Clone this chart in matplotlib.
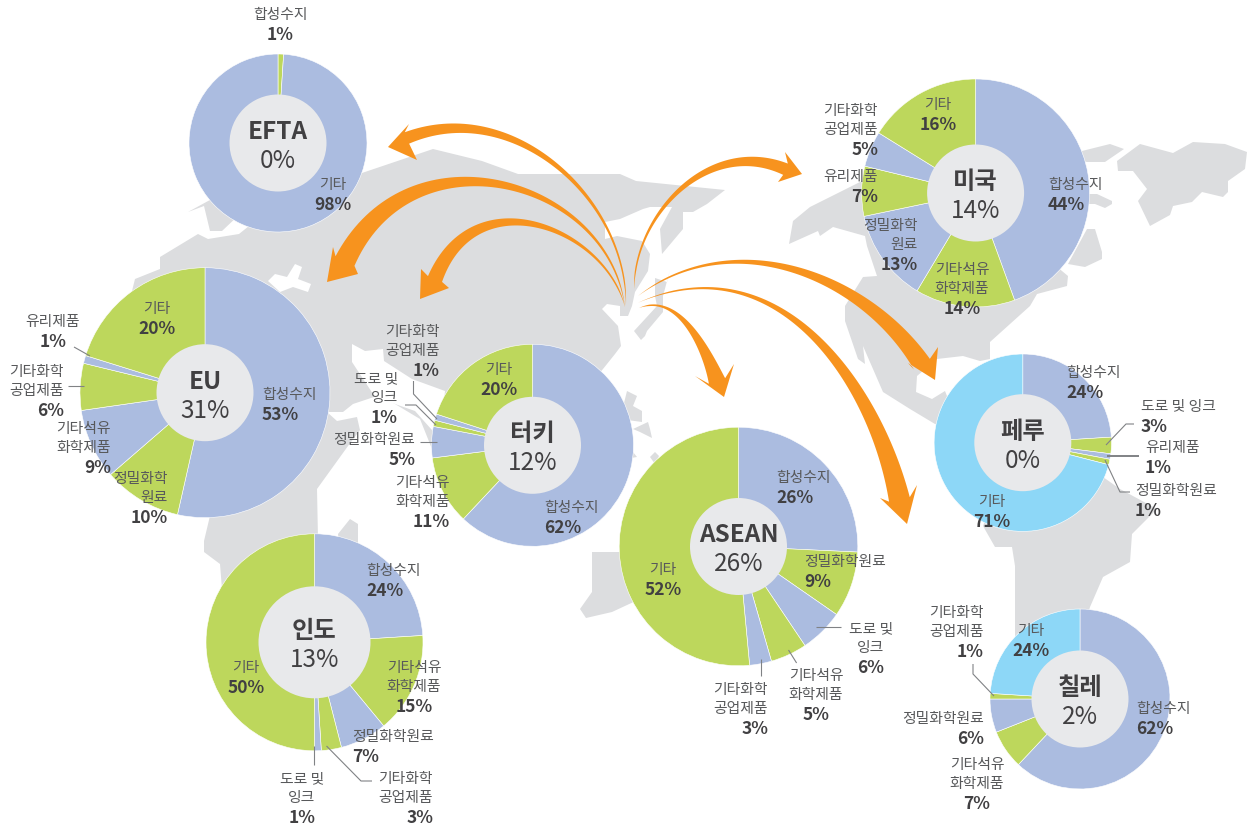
import numpy as np
import matplotlib
matplotlib.use("Agg")
import matplotlib.pyplot as plt
from matplotlib.patches import Circle, Polygon

plt.rcParams['font.family'] = ['Noto Sans CJK KR', 'DejaVu Sans']

BLUE = '#ABBCE0'
GREEN = '#BDD75C'
SKY = '#8DD7F7'
HOLE = '#E8E9EB'
LAND = '#DCDDDF'
ORANGE = '#F7931E'
TEXT = '#58595B'
DARK = '#414042'
LEAD = '#808285'

# values, clockwise from 12 o'clock
efta_names = ['합성수지', '기타']
efta_values = [1, 98]
efta_colors = [GREEN, BLUE]

eu_names = ['합성수지', '정밀화학\n원료', '기타석유\n화학제품', '기타화학\n공업제품', '유리제품', '기타']
eu_values = [53, 10, 9, 6, 1, 20]
eu_colors = [BLUE, GREEN, BLUE, GREEN, BLUE, GREEN]

turkey_names = ['합성수지', '기타석유\n화학제품', '정밀화학원료', '도로 및\n잉크', '기타화학\n공업제품', '기타']
turkey_values = [62, 11, 5, 1, 1, 20]
turkey_colors = [BLUE, GREEN, BLUE, GREEN, BLUE, GREEN]

india_names = ['합성수지', '기타석유\n화학제품', '정밀화학원료', '기타화학\n공업제품', '도로 및\n잉크', '기타']
india_values = [24, 15, 7, 3, 1, 50]
india_colors = [BLUE, GREEN, BLUE, GREEN, BLUE, GREEN]

asean_names = ['합성수지', '정밀화학원료', '도로 및\n잉크', '기타석유\n화학제품', '기타화학\n공업제품', '기타']
asean_values = [26, 9, 6, 5, 3, 52]
asean_colors = [BLUE, GREEN, BLUE, GREEN, BLUE, GREEN]

usa_names = ['합성수지', '기타석유\n화학제품', '정밀화학\n원료', '유리제품', '기타화학\n공업제품', '기타']
usa_values = [44, 14, 13, 7, 5, 16]
usa_colors = [BLUE, GREEN, BLUE, GREEN, BLUE, GREEN]

peru_names = ['합성수지', '도로 및 잉크', '유리제품', '정밀화학원료', '기타']
peru_values = [24, 3, 1, 1, 71]
peru_colors = [BLUE, GREEN, BLUE, GREEN, SKY]

chile_names = ['합성수지', '기타석유\n화학제품', '정밀화학원료', '기타화학\n공업제품', '기타']
chile_values = [62, 7, 6, 1, 24]
chile_colors = [BLUE, GREEN, BLUE, GREEN, SKY]

fig = plt.figure(figsize=(12.52, 8.28), dpi=100)
ax = fig.add_axes([0, 0, 1, 1])


def land(pts, color=LAND):
    ax.add_patch(Polygon(pts, closed=True, fc=color, ec='none', zorder=1))


# --- map, pixel coordinates, y down
land([(160, 258), (198, 235), (208, 240), (239, 235), (249, 227), (300, 195), (359, 175), (433, 150), (482, 162),
      (518, 175), (620, 175), (636, 182), (725, 191), (707, 205), (693, 213), (683, 213), (683, 230), (662, 255),
      (660, 230), (672, 208), (650, 208), (643, 210), (620, 220), (605, 223), (605, 240), (617, 237), (642, 242),
      (650, 255), (648, 272), (635, 293), (632, 307), (628, 317), (620, 317), (620, 307), (607, 305), (602, 310),
      (618, 327), (621, 347), (615, 355), (603, 370), (560, 420), (450, 470), (380, 440), (363, 427), (348, 447),
      (317, 490), (318, 540), (320, 590), (222, 590), (220, 565), (204, 553), (204, 542), (214, 500), (130, 460),
      (130, 300), (135, 280), (160, 270)])
land([(188, 213), (204, 207), (210, 232), (222, 232), (240, 215), (230, 190)])
land([(338, 535), (350, 520), (358, 525), (358, 550), (340, 550)])
land([(655, 279), (667, 283), (670, 271), (663, 297), (663, 313), (647, 332), (645, 337), (641, 341), (634, 332),
      (657, 307), (655, 297)])
land([(627, 392), (637, 397), (633, 407), (642, 412), (642, 423), (620, 420)])
land([(633, 430), (648, 423), (650, 430), (652, 439), (640, 433)])
land([(650, 458), (655, 453), (659, 457), (655, 465)])
land([(625, 453), (633, 453), (637, 458), (625, 460)])
land([(592, 553), (625, 553), (640, 600), (612, 613), (586, 619), (580, 610), (592, 593)])
land([(789, 245), (793, 222), (810, 208), (860, 183), (880, 175), (975, 200), (1062, 272), (1068, 277), (1067, 287),
      (1037, 295), (1030, 307), (990, 343), (990, 360), (980, 362), (963, 357), (937, 360), (917, 377), (916, 393),
      (932, 400), (945, 392), (960, 430), (935, 425), (910, 410), (883, 393), (863, 347), (865, 365), (858, 360),
      (845, 322), (845, 307), (863, 278), (877, 277), (867, 247), (865, 237), (833, 228), (820, 237), (818, 232)])
land([(1082, 152), (1110, 145), (1124, 150), (1105, 163), (1087, 163), (1070, 160)])
land([(1117, 162), (1140, 145), (1173, 154), (1193, 143), (1225, 145), (1247, 153), (1245, 170), (1228, 182),
      (1228, 193), (1223, 198), (1202, 193), (1192, 203), (1173, 207), (1170, 216), (1150, 227), (1138, 202),
      (1147, 190), (1133, 172), (1118, 172)])
land([(1085, 195), (1097, 195), (1112, 202), (1112, 205), (1105, 209), (1095, 205), (1085, 205)])
land([(1095, 230), (1102, 253), (1102, 260), (1085, 268), (1068, 265), (1087, 230)])
land([(1103, 478), (1120, 490), (1157, 510), (1132, 535), (1130, 563), (1103, 578), (1090, 608), (1080, 640),
      (1015, 640), (1015, 567), (1012, 548), (995, 548), (983, 527), (1000, 480)])
# seas
land([(268, 282), (275, 275), (287, 278), (295, 265), (302, 268), (298, 280), (311, 285), (308, 293), (293, 288),
      (280, 293)], 'white')
land([(352, 345), (365, 352), (383, 350), (384, 362), (412, 380), (445, 392), (440, 440), (415, 412), (375, 398),
      (352, 363)], 'white')
land([(327, 413), (343, 413), (353, 405), (380, 396), (420, 420), (440, 470), (362, 440), (357, 418), (337, 422)], 'white')


# --- arrows from the Korea point
def arrow(way, tip, barb1, barb2, w):
    way = np.array(way, dtype=float)
    d = np.r_[0, np.cumsum(np.hypot(*np.diff(way, axis=0).T))]
    d = d / d[-1]
    t = np.linspace(0, 1, 80)
    deg = min(3, len(way) - 1)
    x = np.polyval(np.polyfit(d, way[:, 0], deg), t)
    y = np.polyval(np.polyfit(d, way[:, 1], deg), t)
    dx, dy = np.gradient(x), np.gradient(y)
    n = np.hypot(dx, dy)
    # hairline right from the start, then widening to the head
    wid = w * t ** 1.7 / 2 + 0.6 * np.minimum(1, t * 12)
    left = np.c_[x - dy / n * wid, y + dx / n * wid]
    right = np.c_[x + dy / n * wid, y - dx / n * wid]
    if np.hypot(*(np.array(barb1) - left[-1])) > np.hypot(*(np.array(barb2) - left[-1])):
        barb1, barb2 = barb2, barb1
    pts = np.vstack([left, [barb1], [tip], [barb2], right[::-1]])
    ax.add_patch(Polygon(pts, closed=True, fc=ORANGE, ec='none', zorder=2))


arrow([(626, 307), (612, 240), (571, 180), (490, 133), (407, 139)], (388, 148), (409, 125), (417, 161), 11)
arrow([(625, 308), (612, 267), (551, 203), (473, 183), (345, 262)], (327, 283), (333, 248), (358, 275), 20)
arrow([(625, 308), (571, 240), (510, 223), (435, 280)], (420, 300), (421, 270), (449, 289), 14)
arrow([(634, 290), (652, 227), (692, 180), (753, 163), (785, 170)], (802, 175), (785, 153), (778, 183), 11)
arrow([(638, 297), (741, 263), (822, 280), (882, 320), (922, 365)], (935, 381), (938, 348), (908, 364), 18)
arrow([(639, 303), (713, 292), (801, 320), (862, 407), (900, 500)], (907, 525), (917, 486), (880, 499), 20)
arrow([(639, 309), (660, 307), (693, 333), (717, 382)], (724, 398), (734, 365), (695, 377), 16)


# --- donuts
def donut(cx, cy, r, values, colors, title, share, hole=48.5, fs=17.5):
    # y axis is inverted, so counterclock with -90 runs clockwise from the top
    ax.pie(values, colors=colors, center=(cx, cy), radius=r, startangle=-90, counterclock=True, frame=True,
           wedgeprops=dict(edgecolor='white', linewidth=0.4, zorder=3))
    ax.add_patch(Circle((cx, cy), hole, fc=HOLE, ec='none', zorder=4))
    ax.text(cx, cy - 12, title, ha='center', va='center', fontsize=fs, fontweight='bold', color=DARK, zorder=6)
    ax.text(cx, cy + 17, share, ha='center', va='center', fontsize=fs, fontweight='medium', color=DARK, zorder=6)


def label(x, y, name, value, ha='center'):
    lines = name.split('\n')
    for i, line in enumerate(lines):
        ax.text(x, y + 1.5 + i * 18.7, line, ha=ha, va='center', fontsize=10.7, color=TEXT, zorder=6)
    ax.text(x, y + 2.5 + len(lines) * 18.7, '%d%%' % value, ha=ha, va='center', fontsize=12.5, fontweight='bold',
            color=DARK, zorder=6)


def labels(names, values, spots):
    for name, value, spot in zip(names, values, spots):
        label(spot[0], spot[1], name, value, spot[2])


def lead(pts, lw=0.8):
    pts = np.array(pts)
    ax.plot(pts[:, 0], pts[:, 1], color=LEAD, lw=lw, zorder=5, solid_capstyle='butt')


donut(278, 144, 89, efta_values, efta_colors, 'EFTA', '0%')
labels(efta_names, efta_values, [(280, 14, 'center'), (333, 184, 'center')])

donut(205, 393.7, 125, eu_values, eu_colors, 'EU', '31%')
labels(eu_names, eu_values, [(262, 394, 'left'), (168, 478, 'right'), (111, 428, 'right'), (64, 371, 'right'),
                             (53, 321, 'center'), (157, 308, 'center')])
lead([(74, 348), (90, 357)])
lead([(68, 387), (84, 387)])

donut(532.5, 446.3, 101, turkey_values, turkey_colors, '터키', '12%')
labels(turkey_names, turkey_values, [(544, 507, 'left'), (450, 482, 'right'), (415, 439, 'right'), (398, 378, 'right'),
                                     (440, 331, 'right'), (499, 369, 'center')])
lead([(413.5, 382), (413.5, 395), (437, 420)])
lead([(405, 406), (416, 406), (436, 426)])
lead([(420, 443), (437, 443)])

donut(314.5, 643.3, 108.5, india_values, india_colors, '인도', '13%', hole=56)
labels(india_names, india_values, [(366, 570, 'left'), (414, 667, 'center'), (352, 736, 'left'), (433, 778, 'right'),
                                   (302, 778, 'center'), (246, 667, 'center')])
lead([(314.3, 747), (314.3, 766)])
lead([(326.5, 747), (361, 782), (372, 782)])

donut(738.5, 547.5, 119.3, asean_values, asean_colors, 'ASEAN', '26%')
labels(asean_names, asean_values, [(776, 477, 'left'), (804, 561, 'left'), (871, 628, 'center'), (816, 675, 'center'),
                                   (768, 689, 'right'), (663, 569, 'center')])
lead([(816, 628), (840.5, 628)])
lead([(788.5, 651), (796.6, 664)])
lead([(761, 660), (761, 677)])

donut(975.6, 194, 114, usa_values, usa_colors, '미국', '14%')
labels(usa_names, usa_values, [(1048, 184, 'left'), (962, 269, 'center'), (918, 225, 'right'), (878, 176, 'right'),
                               (878, 110, 'right'), (938, 104, 'center')])

donut(1022.8, 443.7, 88.7, peru_values, peru_colors, '페루', '0%')
labels(peru_names, peru_values, [(1066, 372, 'left'), (1141, 406, 'left'), (1145, 447, 'left'), (1135, 490, 'left'),
                                 (992, 501, 'center')])
lead([(1106, 446), (1126, 425), (1134, 425)])
lead([(1106.7, 457), (1139, 457)], 1.4)
lead([(1105, 461), (1120, 493), (1130, 493)])

donut(1080, 700, 90, chile_values, chile_colors, '칠레', '2%')
labels(chile_names, chile_values, [(1136, 708, 'left'), (977, 764, 'center'), (984, 718, 'right'), (984, 612, 'right'),
                                   (1031, 630, 'center')])
lead([(973, 665), (973, 675), (994, 697)])

ax.set_xlim(0, 1252)
ax.set_ylim(828, 0)
ax.set_aspect('auto')
ax.axis('off')
fig.savefig('out.png', dpi=100)
